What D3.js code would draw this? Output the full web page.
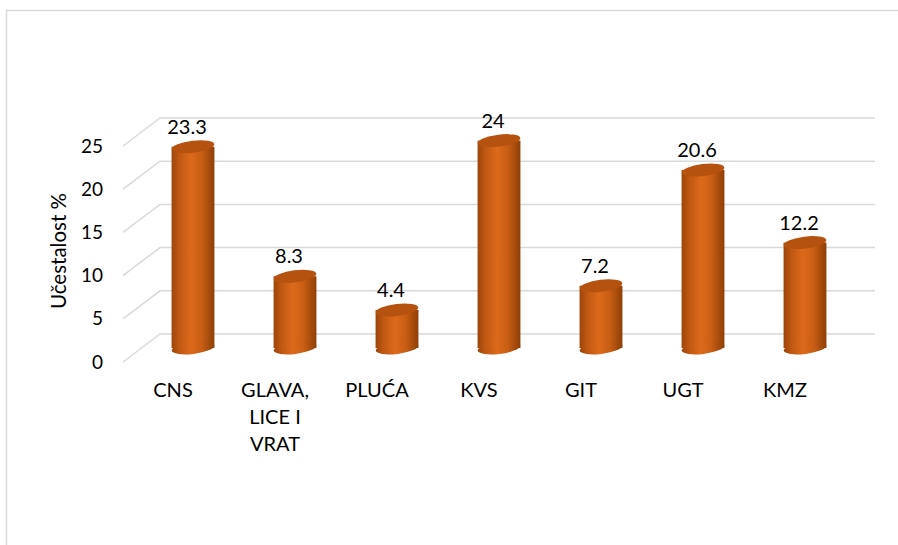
<!DOCTYPE html>
<html>
<head>
<meta charset="utf-8">
<script src="https://cdn.jsdelivr.net/npm/d3@7"></script>
<style>
  html, body { margin: 0; padding: 0; background: #fff; }
  svg { display: block; font-family: Lato, "Open Sans", sans-serif; }
</style>
</head>
<body>
<svg id="chart" width="898" height="545"></svg>
<script>
// chart data
const categories = ['CNS', 'GLAVA, LICE I VRAT', 'PLUĆA', 'KVS', 'GIT', 'UGT', 'KMZ'];
const categoryLines = [['CNS'], ['GLAVA,', 'LICE I', 'VRAT'], ['PLUĆA'], ['KVS'], ['GIT'], ['UGT'], ['KMZ']];
const values = [23.3, 8.3, 4.4, 24, 7.2, 20.6, 12.2];
const yTicks = [0, 5, 10, 15, 20, 25];
const yTitle = 'Učestalost %';

const svg = d3.select('#chart');
svg.selectAll('*').remove();

// outer frame (cut off on right and bottom like the screenshot)
svg.append('rect')
  .attr('x', 6.5).attr('y', 10.5)
  .attr('width', 1000).attr('height', 1000)
  .attr('fill', 'none')
  .attr('stroke', '#d9d9d9')
  .attr('stroke-width', 1.5);

// 3d depth: back wall vs front edge
const depthX = 37;      // back wall starts this far right of front edge
const depthY = 28;      // back wall sits this far above front edge
const frontX = 123;
const backRight = 875;

// y scale at mid depth (where cylinders stand)
const y = d3.scaleLinear().domain([0, 25]).range([348, 132]);

// x scale for cylinder centres
const x = d3.scaleBand()
  .domain(categories)
  .range([142, 856])
  .paddingInner(0.58)
  .paddingOuter(0.29);

const defs = svg.append('defs');
const grad = defs.append('linearGradient')
  .attr('id', 'cyl')
  .attr('x1', '0%').attr('x2', '100%')
  .attr('y1', '0%').attr('y2', '0%');
grad.append('stop').attr('offset', '0%').attr('stop-color', '#9c4509');
grad.append('stop').attr('offset', '18%').attr('stop-color', '#bf5812');
grad.append('stop').attr('offset', '45%').attr('stop-color', '#dd6a1c');
grad.append('stop').attr('offset', '70%').attr('stop-color', '#c85e14');
grad.append('stop').attr('offset', '100%').attr('stop-color', '#8f3f07');

// gridlines: diagonal floor segment + back wall line
const grid = svg.append('g').attr('class', 'grid');
yTicks.forEach(t => {
  const yb = y(t) - depthY / 2;
  grid.append('polyline')
    .attr('points', `${frontX},${yb + depthY} ${frontX + depthX},${yb} ${backRight},${yb}`)
    .attr('fill', 'none')
    .attr('stroke', '#d9d9d9')
    .attr('stroke-width', 1.5);
});

// y tick labels at the front edge
svg.append('g').selectAll('text')
  .data(yTicks)
  .enter().append('text')
  .attr('x', 103)
  .attr('y', d => y(d) + depthY / 2)
  .attr('dy', '0.35em')
  .attr('text-anchor', 'end')
  .attr('font-size', 19)
  .attr('fill', '#000')
  .text(d => d);

// y axis title
svg.append('text')
  .attr('transform', 'translate(59,251) rotate(-90)')
  .attr('text-anchor', 'middle')
  .attr('dy', '0.35em')
  .attr('font-size', 20.5)
  .attr('fill', '#000')
  .text(yTitle);

// cylinders
const rx = x.bandwidth() / 2;
const ry = 6;
const tilt = -7;

const bar = svg.append('g').selectAll('g')
  .data(values)
  .enter().append('g')
  .attr('transform', (d, i) => `translate(${x(categories[i]) + rx},0)`);

bar.append('rect')
  .attr('x', -rx)
  .attr('y', d => y(d))
  .attr('width', 2 * rx)
  .attr('height', d => y(0) - y(d))
  .attr('fill', 'url(#cyl)');

bar.append('ellipse')
  .attr('cx', 0).attr('cy', 0)
  .attr('rx', rx).attr('ry', ry)
  .attr('transform', `translate(0,${y(0)}) rotate(${tilt})`)
  .attr('fill', 'url(#cyl)');

bar.append('ellipse')
  .attr('cx', 0).attr('cy', 0)
  .attr('rx', rx).attr('ry', ry)
  .attr('transform', d => `translate(0,${y(d)}) rotate(${tilt})`)
  .attr('fill', '#b5520f');

// value labels
bar.append('text')
  .attr('x', -6)
  .attr('y', d => y(d) - 20)
  .attr('dy', '0.35em')
  .attr('text-anchor', 'middle')
  .attr('font-size', 20)
  .attr('fill', '#000')
  .text(d => d);

// category labels at the front edge, shifted left by perspective
svg.append('g').selectAll('text')
  .data(categoryLines)
  .enter().append('text')
  .attr('x', (d, i) => x(categories[i]) + rx - 20)
  .attr('y', 390)
  .attr('text-anchor', 'middle')
  .attr('font-size', 20)
  .attr('fill', '#000')
  .each(function (lines) {
    d3.select(this).selectAll('tspan')
      .data(lines)
      .enter().append('tspan')
      .attr('x', d3.select(this).attr('x'))
      .attr('dy', (l, j) => j === 0 ? '0.35em' : '27px')
      .text(l => l);
  });
</script>
</body>
</html>
